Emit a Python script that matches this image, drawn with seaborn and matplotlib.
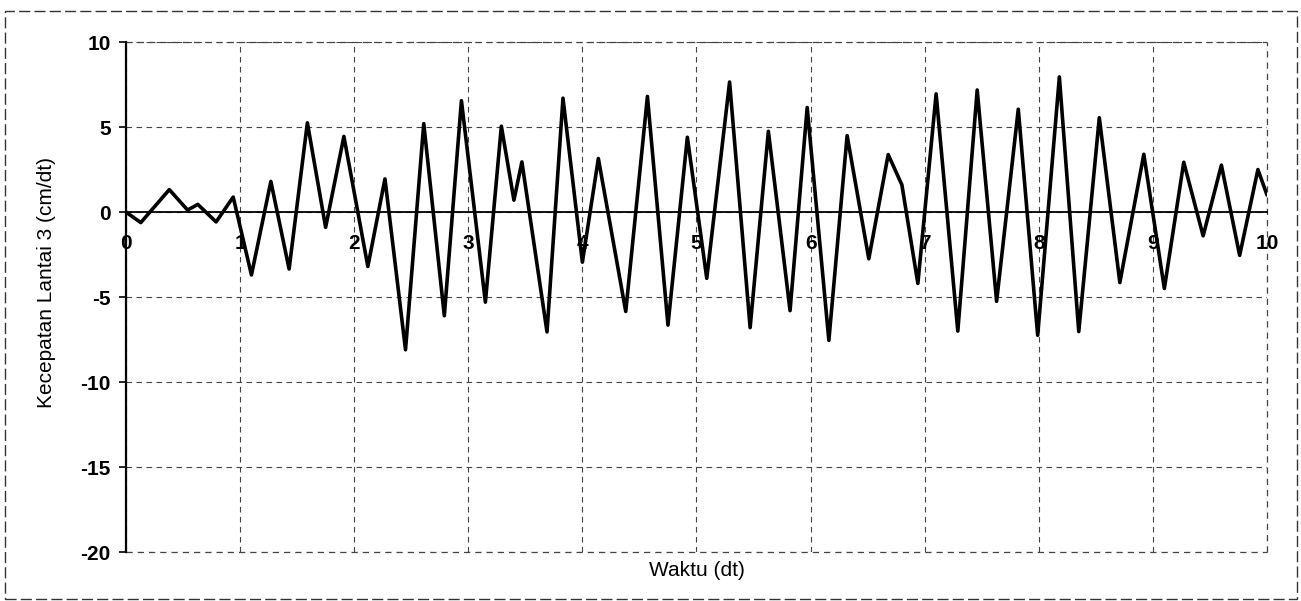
import numpy as np
import pandas as pd
import matplotlib
matplotlib.use("Agg")
import matplotlib.pyplot as plt
from matplotlib.patches import Rectangle
import seaborn as sns

# --- data (peaks / troughs of the response) ---
waktu = [0.00, 0.13, 0.38, 0.54, 0.63, 0.79, 0.94, 1.10, 1.27, 1.43,
         1.59, 1.75, 1.91, 2.12, 2.27, 2.45, 2.61, 2.79, 2.94, 3.15,
         3.29, 3.40, 3.47, 3.69, 3.83, 4.00, 4.14, 4.38, 4.57, 4.75,
         4.92, 5.09, 5.29, 5.47, 5.63, 5.82, 5.97, 6.16, 6.32, 6.51,
         6.68, 6.80, 6.94, 7.10, 7.29, 7.46, 7.63, 7.82, 7.99, 8.18,
         8.35, 8.53, 8.71, 8.92, 9.10, 9.27, 9.44, 9.60, 9.76, 9.92,
         10.00]
kecepatan = [0.00, -0.62, 1.32, 0.12, 0.45, -0.58, 0.88, -3.70, 1.80, -3.35,
             5.25, -0.90, 4.45, -3.20, 1.95, -8.10, 5.20, -6.10, 6.55, -5.30,
             5.05, 0.70, 2.95, -7.05, 6.70, -2.95, 3.15, -5.85, 6.80, -6.65,
             4.40, -3.90, 7.65, -6.80, 4.75, -5.80, 6.15, -7.55, 4.50, -2.75,
             3.38, 1.60, -4.20, 6.95, -7.00, 7.18, -5.25, 6.05, -7.25, 7.95,
             -7.03, 5.55, -4.15, 3.40, -4.50, 2.93, -1.40, 2.76, -2.55, 2.50,
             1.00]

x_ticks = list(range(0, 11))
y_ticks = [-20, -15, -10, -5, 0, 5, 10]

df = pd.DataFrame({"Waktu": waktu, "Kecepatan": kecepatan})

sns.set_theme(style="white")
plt.rcParams["font.family"] = ["Liberation Sans", "DejaVu Sans"]
plt.rcParams["axes.unicode_minus"] = False

fig = plt.figure(figsize=(13.01, 6.01), dpi=100)
ax = fig.add_axes([0.0968, 0.0815, 0.8771, 0.8485])

sns.lineplot(data=df, x="Waktu", y="Kecepatan", ax=ax, color="black",
             linewidth=2.6, sort=False, estimator=None, zorder=5)
ax.lines[-1].set_solid_joinstyle("round")

ax.set_xlim(0, 10)
ax.set_ylim(-20, 10)

# x axis runs along y = 0
ax.spines["bottom"].set_position(("data", 0))
ax.spines["bottom"].set_color("black")
ax.spines["bottom"].set_linewidth(1.3)
ax.spines["left"].set_color("black")
ax.spines["left"].set_linewidth(1.6)
ax.spines["top"].set_visible(False)
ax.spines["right"].set_visible(False)

ax.set_xticks(x_ticks)
ax.set_yticks(y_ticks)
ax.tick_params(axis="x", length=0, pad=16, colors="black", labelsize=15)
ax.tick_params(axis="y", direction="out", length=5, width=1.2, pad=6,
               left=True, colors="black", labelsize=15)
for lab in ax.get_xticklabels() + ax.get_yticklabels():
    lab.set_fontweight("bold")

# dashed gridlines, like the scanned excel chart
ax.grid(True, color="#444444", linestyle=(0, (5, 4)), linewidth=0.8)
ax.axhline(-20, color="#444444", linestyle=(0, (5, 4)), linewidth=0.9, clip_on=False)
ax.axhline(10, color="#444444", linestyle=(0, (5, 4)), linewidth=0.9, clip_on=False)
ax.axvline(10, color="#444444", linestyle=(0, (5, 4)), linewidth=0.9, clip_on=False)

ax.set_xlabel("")
ax.set_ylabel("")
fig.text(0.536, 0.05, "Waktu (dt)", ha="center", va="center", fontsize=15,
         color="black")
fig.text(0.036, 0.53, "Kecepatan Lantai 3 (cm/dt)", ha="center", va="center",
         rotation=90, fontsize=15, color="black")

# outer dashed frame of the chart area
fig.patches.append(Rectangle((0.004, 0.004), 0.993, 0.978, transform=fig.transFigure,
                             fill=False, edgecolor="#333333", linewidth=1.0,
                             linestyle=(0, (8, 3))))

fig.savefig("out.png", dpi=100, facecolor="white")
